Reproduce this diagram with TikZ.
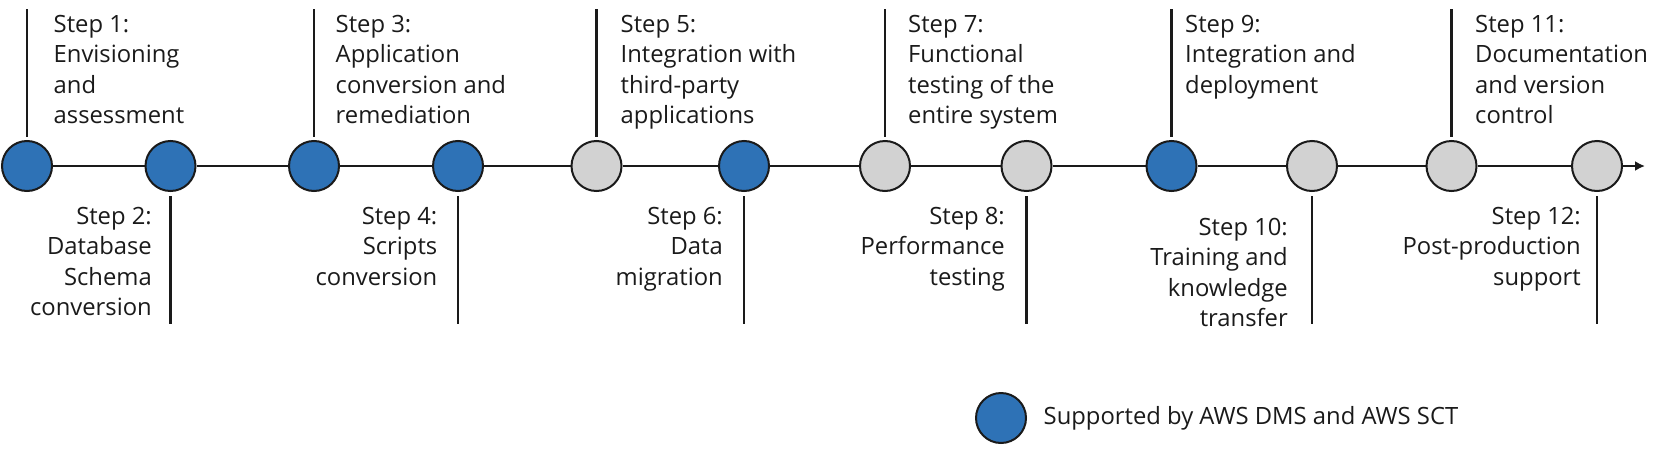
\documentclass[tikz,border=0pt]{standalone}
\usepackage{fontspec}
\setmainfont{Open Sans}
\usetikzlibrary{arrows.meta}
\definecolor{awsblue}{HTML}{2E72B6}
\definecolor{stepgray}{HTML}{D2D2D2}
\definecolor{ink}{HTML}{1A1A1A}
\tikzset{
  x=1pt, y=-1pt,
  milestone/.style={circle, draw=ink, line width=2pt, minimum size=50pt, inner sep=0pt},
  done/.style={milestone, fill=awsblue},
  todo/.style={milestone, fill=stepgray},
  tick/.style={draw=ink, line width=2.4pt},
  axis/.style={draw=ink, line width=2.6pt},
  uplabel/.style={anchor=base west, align=left, inner sep=0pt, text=ink,
    font=\fontsize{23.8}{30.6}\selectfont},
  downlabel/.style={anchor=base east, align=right, inner sep=0pt, text=ink,
    font=\fontsize{23.8}{30.6}\selectfont},
}
\begin{document}
\begin{tikzpicture}
\useasboundingbox (0,0) rectangle (1680,471);
% milestones
\node[done] (c1) at (27,166) {};
\node[done] (c2) at (170.5,166) {};
\node[done] (c3) at (314,166) {};
\node[done] (c4) at (458,166) {};
\node[todo] (c5) at (596.5,166) {};
\node[done] (c6) at (744,166) {};
\node[todo] (c7) at (885,166) {};
\node[todo] (c8) at (1026.5,166) {};
\node[done] (c9) at (1171.5,166) {};
\node[todo] (c10) at (1312,166) {};
\node[todo] (c11) at (1451.5,166) {};
\node[todo] (c12) at (1597,166) {};
\coordinate (tip) at (1645,166);
% axis
\foreach \a/\b in {c1/c2,c2/c3,c3/c4,c4/c5,c5/c6,c6/c7,c7/c8,c8/c9,c9/c10,c10/c11,c11/c12}
  \draw[axis] (\a) -- (\b);
\draw[axis, -{Latex[length=10pt,width=10pt]}] (c12) -- (tip);
% ticks
\foreach \n in {1,3,5,7,9,11} {
  \coordinate (u\n) at ([yshift=157pt]c\n.center);
  \draw[tick] (u\n) -- ([yshift=3pt]c\n.north);
}
\foreach \n in {2,4,6,8,10,12} {
  \coordinate (d\n) at ([yshift=-158pt]c\n.center);
  \draw[tick] ([yshift=-4pt]c\n.south) -- (d\n);
}
% labels above (anchor = baseline of last line)
\node[uplabel] (l1) at (53.5,123.8) {Step 1:\\Envisioning\\and\\assessment};
\node[uplabel] (l3) at (335.5,123.8) {Step 3:\\Application\\conversion and\\remediation};
\node[uplabel] (l5) at (620.5,123.8) {Step 5:\\Integration with\\third-party\\applications};
\node[uplabel] (l7) at (908,123.8) {Step 7:\\Functional\\testing of the\\entire system};
\node[uplabel] (l9) at (1185,93.2) {Step 9:\\Integration and\\deployment};
\node[uplabel] (l11) at (1475,123.8) {Step 11:\\Documentation\\and version\\control};
% labels below
\node[downlabel] (l2) at (152,315.8) {Step 2:\\Database\\Schema\\conversion};
\node[downlabel] (l4) at (437.5,285.2) {Step 4:\\Scripts\\conversion};
\node[downlabel] (l6) at (723,285.2) {Step 6:\\Data\\migration};
\node[downlabel] (l8) at (1005,285.2) {Step 8:\\Performance\\testing};
\node[downlabel] (l10) at (1288,326.8) {Step 10:\\Training and\\knowledge\\transfer};
\node[downlabel] (l12) at (1581,285.2) {Step 12:\\Post-production\\support};
% legend
\node[done] (key) at (1001,418) {};
\node[anchor=west, inner sep=0pt, text=ink, font=\fontsize{23.8}{30.6}\selectfont]
  (keytext) at (1043.5,418) {Supported by AWS DMS and AWS SCT};
\end{tikzpicture}
\end{document}
